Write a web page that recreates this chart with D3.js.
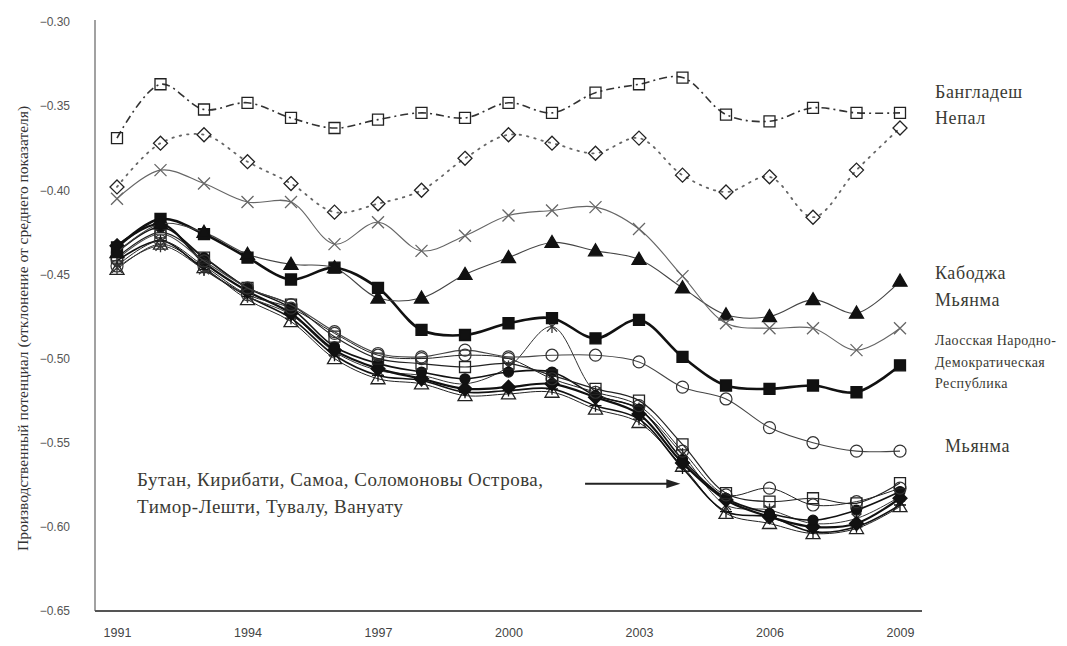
<!DOCTYPE html>
<html>
<head>
<meta charset="utf-8">
<script src="https://cdn.jsdelivr.net/npm/d3@7"></script>
<style>
  body { margin: 0; background: #fff; }
  svg { display: block; }
</style>
</head>
<body>
<svg id="chart" width="1067" height="646"></svg>
<script>
// ---- data ----
const years = [1991, 1992, 1993, 1994, 1995, 1996, 1997, 1998, 1999, 2000,
               2001, 2002, 2003, 2004, 2005, 2006, 2007, 2008, 2009];
const xTicks = [1991, 1994, 1997, 2000, 2003, 2006, 2009];
const yTicks = [-0.30, -0.35, -0.40, -0.45, -0.50, -0.55, -0.60, -0.65];

const bangladesh = [-0.369, -0.337, -0.352, -0.348, -0.357, -0.363, -0.358, -0.354, -0.357, -0.348,
                    -0.354, -0.342, -0.337, -0.333, -0.355, -0.359, -0.351, -0.354, -0.354];
const nepal      = [-0.398, -0.372, -0.367, -0.383, -0.396, -0.413, -0.408, -0.400, -0.381, -0.367,
                    -0.372, -0.378, -0.369, -0.391, -0.401, -0.392, -0.416, -0.388, -0.363];
const myanmarX   = [-0.405, -0.388, -0.396, -0.407, -0.407, -0.432, -0.419, -0.436, -0.427, -0.415,
                    -0.412, -0.410, -0.423, -0.451, -0.479, -0.482, -0.482, -0.495, -0.482];
const cambodia   = [-0.437, -0.420, -0.425, -0.438, -0.444, -0.446, -0.464, -0.464, -0.450, -0.440,
                    -0.431, -0.436, -0.441, -0.458, -0.474, -0.475, -0.465, -0.473, -0.454];
const laos       = [-0.434, -0.417, -0.426, -0.440, -0.453, -0.446, -0.458, -0.483, -0.486, -0.479,
                    -0.476, -0.488, -0.477, -0.499, -0.516, -0.518, -0.516, -0.520, -0.504];
const myanmarO   = [-0.441, -0.426, -0.442, -0.458, -0.468, -0.484, -0.497, -0.499, -0.495, -0.499,
                    -0.498, -0.498, -0.502, -0.517, -0.524, -0.541, -0.550, -0.555, -0.555];

// Бутан, Кирибати, Самоа, Соломоновы Острова, Тимор-Лешти, Тувалу, Вануату
const groupA = [-0.440, -0.425, -0.440, -0.458, -0.468, -0.487, -0.500, -0.503, -0.505, -0.503,
                -0.510, -0.518, -0.525, -0.551, -0.580, -0.585, -0.583, -0.586, -0.574];
const groupB = [-0.445, -0.430, -0.445, -0.462, -0.470, -0.485, -0.498, -0.500, -0.498, -0.500,
                -0.512, -0.520, -0.528, -0.555, -0.581, -0.577, -0.587, -0.585, -0.577];
const groupC = [-0.437, -0.422, -0.440, -0.458, -0.470, -0.493, -0.503, -0.508, -0.512, -0.508,
                -0.508, -0.522, -0.530, -0.560, -0.583, -0.592, -0.596, -0.590, -0.579];
const groupD = [-0.433, -0.420, -0.443, -0.460, -0.473, -0.495, -0.506, -0.512, -0.518, -0.517,
                -0.515, -0.523, -0.533, -0.562, -0.584, -0.594, -0.600, -0.598, -0.583];
const groupE = [-0.442, -0.430, -0.447, -0.463, -0.476, -0.498, -0.510, -0.513, -0.520, -0.519,
                -0.518, -0.528, -0.536, -0.565, -0.591, -0.594, -0.603, -0.600, -0.587];
const groupF = [-0.446, -0.433, -0.447, -0.463, -0.474, -0.496, -0.507, -0.510, -0.515, -0.505,
                -0.481, -0.520, -0.530, -0.557, -0.587, -0.590, -0.598, -0.595, -0.582];
const groupG = [-0.447, -0.432, -0.446, -0.465, -0.478, -0.500, -0.512, -0.515, -0.522, -0.521,
                -0.520, -0.530, -0.538, -0.564, -0.592, -0.598, -0.604, -0.601, -0.588];

// ---- series styles (draw order: bottom first) ----
const series = [
  { values: groupG, marker: 'triangle', filled: false, stroke: '#222', width: 1.0 },
  { values: groupE, marker: 'plus',     filled: false, stroke: '#111', width: 1.6 },
  { values: groupF, marker: 'star',     filled: false, stroke: '#333', width: 1.0 },
  { values: groupD, marker: 'diamond',  filled: true,  stroke: '#111', width: 2.2 },
  { values: groupC, marker: 'circle',   filled: true,  stroke: '#111', width: 1.6 },
  { values: groupB, marker: 'circle',   filled: false, stroke: '#222', width: 1.0 },
  { values: groupA, marker: 'square',   filled: false, stroke: '#222', width: 1.2 },
  { values: myanmarO, marker: 'circle', filled: false, stroke: '#444', width: 1.1 },
  { values: laos,   marker: 'square',   filled: true,  stroke: '#111', width: 2.6 },
  { values: cambodia, marker: 'triangle', filled: true, stroke: '#444', width: 1.1 },
  { values: myanmarX, marker: 'x',      filled: false, stroke: '#666', width: 1.1 },
  { values: nepal,  marker: 'diamond',  filled: false, stroke: '#666', width: 1.8, dash: '1.5,6', cap: 'round' },
  { values: bangladesh, marker: 'square', filled: false, stroke: '#333', width: 1.6, dash: '8,4,2,4' }
];

const rightLabels = [
  { text: 'Бангладеш', x: 935, y: 98, size: 18 },
  { text: 'Непал', x: 935, y: 124, size: 18 },
  { text: 'Кабоджа', x: 935, y: 279, size: 18 },
  { text: 'Мьянма', x: 935, y: 306, size: 18 },
  { text: 'Лаосская Народно-', x: 935, y: 345, size: 14 },
  { text: 'Демократическая', x: 935, y: 367, size: 14 },
  { text: 'Республика', x: 935, y: 388, size: 14 },
  { text: 'Мьянма', x: 945, y: 452, size: 18 }
];
const noteLines = ['Бутан, Кирибати, Самоа, Соломоновы Острова,', 'Тимор-Лешти, Тувалу, Вануату'];

// ---- scales ----
const x = d3.scaleLinear().domain([1991, 2009]).range([117, 900]);
const y = d3.scaleLinear().domain([-0.65, -0.30]).range([611, 22]);

const svg = d3.select('#chart');
const serif = '"Liberation Serif", "DejaVu Serif", serif';
const sans = '"Liberation Sans", Arial, sans-serif';

// axes
svg.append('g')
  .attr('transform', `translate(95,0)`)
  .call(d3.axisLeft(y).tickValues(yTicks).tickFormat(d3.format('.2f')).tickSize(0).tickPadding(25))
  .call(g => g.select('.domain').attr('stroke', '#8a8a8a').attr('stroke-width', 1.6)
    .attr('d', `M0,${y(-0.30) - 2}V${y(-0.65)}`))
  .call(g => g.selectAll('text').attr('fill', '#555').attr('font-family', sans).attr('font-size', 12));

svg.append('g')
  .attr('transform', `translate(0,${y(-0.65)})`)
  .call(d3.axisBottom(x).tickValues(xTicks).tickFormat(d3.format('d')).tickSize(0).tickPadding(17))
  .call(g => g.select('.domain').attr('stroke', '#555').attr('stroke-width', 2.2)
    .attr('d', `M95,0H922`))
  .call(g => g.selectAll('text').attr('fill', '#444').attr('font-family', sans).attr('font-size', 12.5));

// y title
svg.append('text')
  .attr('transform', `translate(28,${(y(-0.30) + y(-0.65)) / 2 + 12}) rotate(-90)`)
  .attr('text-anchor', 'middle')
  .attr('font-family', serif)
  .attr('font-size', 15.5)
  .attr('fill', '#333')
  .text('Производственный потенциал (отклонение от среднего показателя)');

// lines
const line = d3.line()
  .x((d, i) => x(years[i]))
  .y(d => y(d))
  .curve(d3.curveCatmullRom.alpha(0.5));

const markerPath = {
  square: 'M-5.5,-5.5h11v11h-11z',
  diamond: 'M0,-7L7,0L0,7L-7,0Z',
  triangle: 'M0,-7L7,5H-7Z',
  x: 'M-6,-6L6,6M-6,6L6,-6',
  plus: 'M-6,0H6M0,-6V6',
  star: 'M-5,-5L5,5M-5,5L5,-5M0,-6.5V6.5'
};

const sg = svg.append('g')
  .selectAll('g')
  .data(series)
  .join('g');

sg.append('path')
  .attr('fill', 'none')
  .attr('stroke', d => d.stroke)
  .attr('stroke-width', d => d.width)
  .attr('stroke-dasharray', d => d.dash || null)
  .attr('stroke-linecap', d => d.cap || 'butt')
  .attr('d', d => line(d.values));

sg.each(function(s) {
  const g = d3.select(this);
  const pts = g.selectAll('.pt')
    .data(s.values)
    .join('g')
      .attr('class', 'pt')
      .attr('transform', (v, i) => `translate(${x(years[i])},${y(v)})`);
  const lineOnly = s.marker === 'x' || s.marker === 'plus' || s.marker === 'star';
  if (s.marker === 'circle') {
    pts.append('circle')
      .attr('r', s.filled ? 5 : 6)
      .attr('fill', s.filled ? '#111' : 'none')
      .attr('stroke', s.filled ? '#111' : '#333')
      .attr('stroke-width', 1.2);
  } else {
    pts.append('path')
      .attr('d', markerPath[s.marker])
      .attr('fill', s.filled ? '#111' : 'none')
      .attr('stroke', s.filled ? '#111' : (lineOnly ? s.stroke : '#222'))
      .attr('stroke-width', 1.3);
  }
});

// right-side labels
svg.append('g')
  .selectAll('text')
  .data(rightLabels)
  .join('text')
    .attr('x', d => d.x)
    .attr('y', d => d.y)
    .attr('font-family', serif)
    .attr('font-size', d => d.size)
    .attr('letter-spacing', d => d.size > 15 ? 0.6 : 0.4)
    .attr('fill', '#3a3a33')
    .text(d => d.text);

// annotation
svg.append('g')
  .selectAll('text')
  .data(noteLines)
  .join('text')
    .attr('x', 137)
    .attr('y', (d, i) => 486 + i * 27)
    .attr('font-family', serif)
    .attr('font-size', 19)
    .attr('letter-spacing', 0.5)
    .attr('fill', '#3a3a33')
    .text(d => d);

const ay = y(-0.5744);
svg.append('line')
  .attr('x1', x(2001.76)).attr('x2', x(2003.75))
  .attr('y1', ay).attr('y2', ay)
  .attr('stroke', '#222').attr('stroke-width', 2);
svg.append('path')
  .attr('d', `M${x(2003.95)},${ay}l-14,-4.5v9z`)
  .attr('fill', '#222');
</script>
</body>
</html>
